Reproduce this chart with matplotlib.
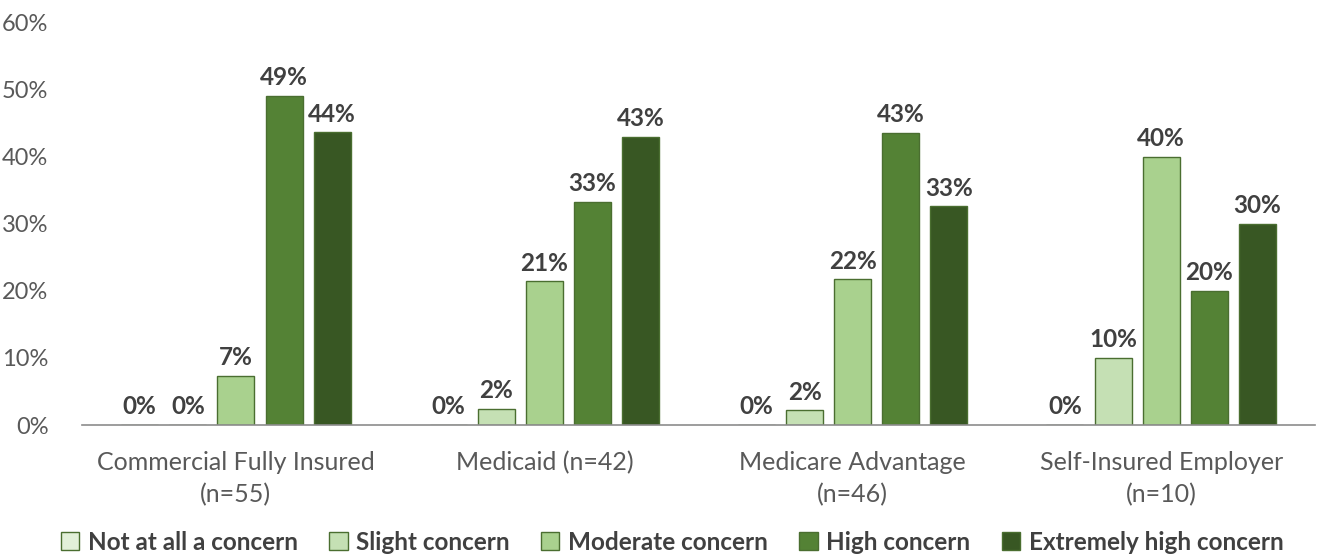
import numpy as np
import matplotlib.pyplot as plt
from matplotlib.ticker import PercentFormatter

plt.rcParams['font.family'] = ['Lato', 'DejaVu Sans']

groups = ['Commercial Fully Insured\n(n=55)', 'Medicaid (n=42)',
          'Medicare Advantage\n(n=46)', 'Self-Insured Employer\n(n=10)']
series = ['Not at all a concern', 'Slight concern', 'Moderate concern',
          'High concern', 'Extremely high concern']
not_at_all = [0.0, 0.0, 0.0, 0.0]
slight = [0.0, 2.4, 2.2, 10.0]
moderate = [7.3, 21.4, 21.7, 40.0]
high = [49.1, 33.3, 43.5, 20.0]
extreme = [43.6, 42.9, 32.6, 30.0]
labels = [
    ['0%', '0%', '0%', '0%'],
    ['0%', '2%', '2%', '10%'],
    ['7%', '21%', '22%', '40%'],
    ['49%', '33%', '43%', '20%'],
    ['44%', '43%', '33%', '30%'],
]

colors = ['#e2f0d9', '#c5e0b4', '#a9d18e', '#548235', '#385723']
edge = '#4a6e30'

fig = plt.figure(figsize=(13.18, 5.56), dpi=100)
ax = fig.add_axes([0.062, 0.2356, 0.936, 0.724])

x = np.arange(len(groups))
step = 0.156
width = 0.12
data = [not_at_all, slight, moderate, high, extreme]
for i, (vals, name) in enumerate(zip(data, series)):
    pos = x + (i - 2) * step
    ax.bar(pos, vals, width, color=colors[i], edgecolor=edge, linewidth=1.0,
           label=name)
    for xp, v, lab in zip(pos, vals, labels[i]):
        ax.text(xp, v + 1.0, lab, ha='center', va='bottom', fontsize=17.5,
                fontweight='bold', color='#404040')

ax.set_xlim(-0.5, 3.5)
ax.set_ylim(0, 60)
ax.set_yticks(np.arange(0, 61, 10))
ax.yaxis.set_major_formatter(PercentFormatter(decimals=0))
ax.set_xticks(x)
ax.set_xticklabels(groups, fontsize=18, color='#595959', linespacing=1.45)
ax.tick_params(axis='y', labelsize=17, labelcolor='#595959', length=0, pad=24)
ax.tick_params(axis='x', length=0, pad=19)
for s in ['top', 'right', 'left']:
    ax.spines[s].set_visible(False)
ax.spines['bottom'].set_color('#8c8c8c')
ax.spines['bottom'].set_linewidth(1.2)

leg = fig.legend(loc='lower center', bbox_to_anchor=(0.51, -0.035), ncol=5,
                 frameon=False, handlelength=0.75, handleheight=0.75,
                 handletextpad=0.35, columnspacing=1.3,
                 prop={'size': 17.5, 'weight': 'bold'})
for t in leg.get_texts():
    t.set_color('#404040')

fig.savefig('out.png', dpi=100)
